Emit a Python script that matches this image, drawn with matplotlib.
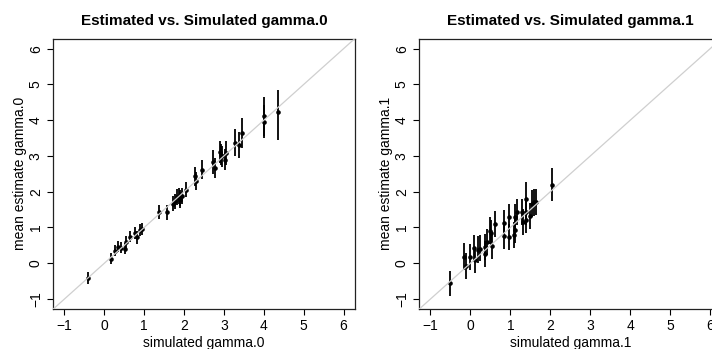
import matplotlib
matplotlib.use("Agg")
import matplotlib.pyplot as plt

plt.rcParams['font.family'] = ['Liberation Sans', 'DejaVu Sans']

# gamma.0: simulated value, mean estimate, interval ends
g0_sim = [-0.40, 0.16, 0.27, 0.34, 0.43, 0.52, 0.55, 0.64, 0.78, 0.82,
          0.90, 0.95, 1.36, 1.57, 1.73, 1.78, 1.83, 1.87, 1.89, 1.91,
          1.94, 2.06, 2.28, 2.31, 2.44, 2.73, 2.77, 2.89, 2.92, 2.95,
          3.02, 3.04, 3.28, 3.37, 3.46, 4.01, 4.01, 4.35]
g0_est = [-0.41, 0.13, 0.34, 0.46, 0.44, 0.40, 0.60, 0.74, 0.85, 0.72,
          0.92, 0.95, 1.44, 1.42, 1.66, 1.74, 1.86, 1.89, 1.76, 1.83,
          1.88, 2.06, 2.43, 2.30, 2.62, 2.83, 2.66, 3.11, 3.04, 2.99,
          2.90, 3.08, 3.37, 3.30, 3.64, 4.11, 3.96, 4.24]
g0_lo = [-0.57, -0.01, 0.19, 0.31, 0.29, 0.25, 0.44, 0.58, 0.68, 0.55,
         0.75, 0.78, 1.25, 1.22, 1.45, 1.53, 1.64, 1.67, 1.54, 1.61,
         1.66, 1.84, 2.17, 2.05, 2.35, 2.50, 2.38, 2.80, 2.74, 2.69,
         2.60, 2.75, 2.99, 2.94, 3.23, 3.55, 3.50, 3.44]
g0_hi = [-0.25, 0.28, 0.50, 0.62, 0.60, 0.56, 0.76, 0.91, 1.02, 0.89,
         1.10, 1.12, 1.62, 1.62, 1.87, 1.95, 2.08, 2.11, 1.98, 2.05,
         2.10, 2.28, 2.70, 2.55, 2.89, 3.16, 2.94, 3.42, 3.34, 3.29,
         3.20, 3.41, 3.75, 3.66, 4.06, 4.66, 4.42, 4.84]

# gamma.1
g1_sim = [-0.51, -0.15, -0.11, 0.00, 0.09, 0.11, 0.18, 0.23, 0.36, 0.37,
          0.42, 0.48, 0.52, 0.54, 0.61, 0.85, 0.85, 0.96, 0.96, 1.10,
          1.11, 1.11, 1.17, 1.28, 1.31, 1.38, 1.39, 1.39, 1.48, 1.55,
          1.60, 1.63, 2.03]
g1_est = [-0.56, 0.18, -0.08, 0.18, 0.43, 0.09, 0.38, 0.41, 0.46, 0.25,
          0.60, 0.91, 0.85, 0.47, 1.09, 1.13, 0.77, 1.28, 0.72, 0.78,
          0.92, 1.28, 1.44, 1.43, 1.16, 1.81, 1.42, 1.20, 1.32, 1.67,
          1.70, 1.71, 2.20]
g1_lo = [-0.92, -0.19, -0.45, -0.18, 0.06, -0.27, 0.02, 0.05, 0.10, -0.11,
         0.24, 0.55, 0.49, 0.11, 0.73, 0.76, 0.41, 0.92, 0.36, 0.42,
         0.56, 0.92, 1.08, 1.07, 0.80, 1.34, 1.06, 0.84, 0.96, 1.30,
         1.33, 1.34, 1.74]
g1_hi = [-0.22, 0.57, 0.30, 0.55, 0.80, 0.46, 0.75, 0.78, 0.83, 0.62,
         0.97, 1.28, 1.22, 0.84, 1.46, 1.50, 1.14, 1.65, 1.09, 1.15,
         1.29, 1.65, 1.81, 1.80, 1.53, 2.27, 1.79, 1.57, 1.69, 2.04,
         2.07, 2.08, 2.65]

ticks = [-1, 0, 1, 2, 3, 4, 5, 6]
lims = (-1.28, 6.28)

W, H = 712, 349
fig = plt.figure(figsize=(W / 100, H / 100), dpi=100)
ax0 = fig.add_axes([53.3 / W, 1 - 309 / H, 301.4 / W, 270.3 / H])
ax1 = fig.add_axes([419.3 / W, 1 - 309 / H, 302 / W, 270.3 / H])


def panel(ax, sim, est, lo, hi, name):
    ax.vlines(sim, lo, hi, color='black', lw=1.3, zorder=2)
    ax.plot(sim, est, 'o', color='black', ms=3.3, mew=0, zorder=3)
    ax.axline((0, 0), (1, 1), color='#cfcfcf', lw=0.9, zorder=4)
    ax.set_xlim(lims)
    ax.set_ylim(lims)
    ax.set_xticks(ticks)
    ax.set_yticks(ticks)
    ax.set_xticklabels([str(t).replace('-', '\u2212') for t in ticks])
    ax.set_yticklabels([str(t).replace('-', '\u2212') for t in ticks],
                       rotation=90, va='center')
    ax.tick_params(direction='out', length=4.5, width=0.8, labelsize=10,
                   pad=3, color='black')
    for s in ax.spines.values():
        s.set_linewidth(0.9)
        s.set_color('#222222')
    ax.set_title('Estimated vs. Simulated ' + name, fontsize=11,
                 fontweight='bold', pad=10)
    ax.set_xlabel('simulated ' + name, fontsize=10, labelpad=2)
    ax.set_ylabel('mean estimate ' + name, fontsize=10, labelpad=1)


panel(ax0, g0_sim, g0_est, g0_lo, g0_hi, 'gamma.0')
panel(ax1, g1_sim, g1_est, g1_lo, g1_hi, 'gamma.1')

fig.savefig('out.png', dpi=100)
